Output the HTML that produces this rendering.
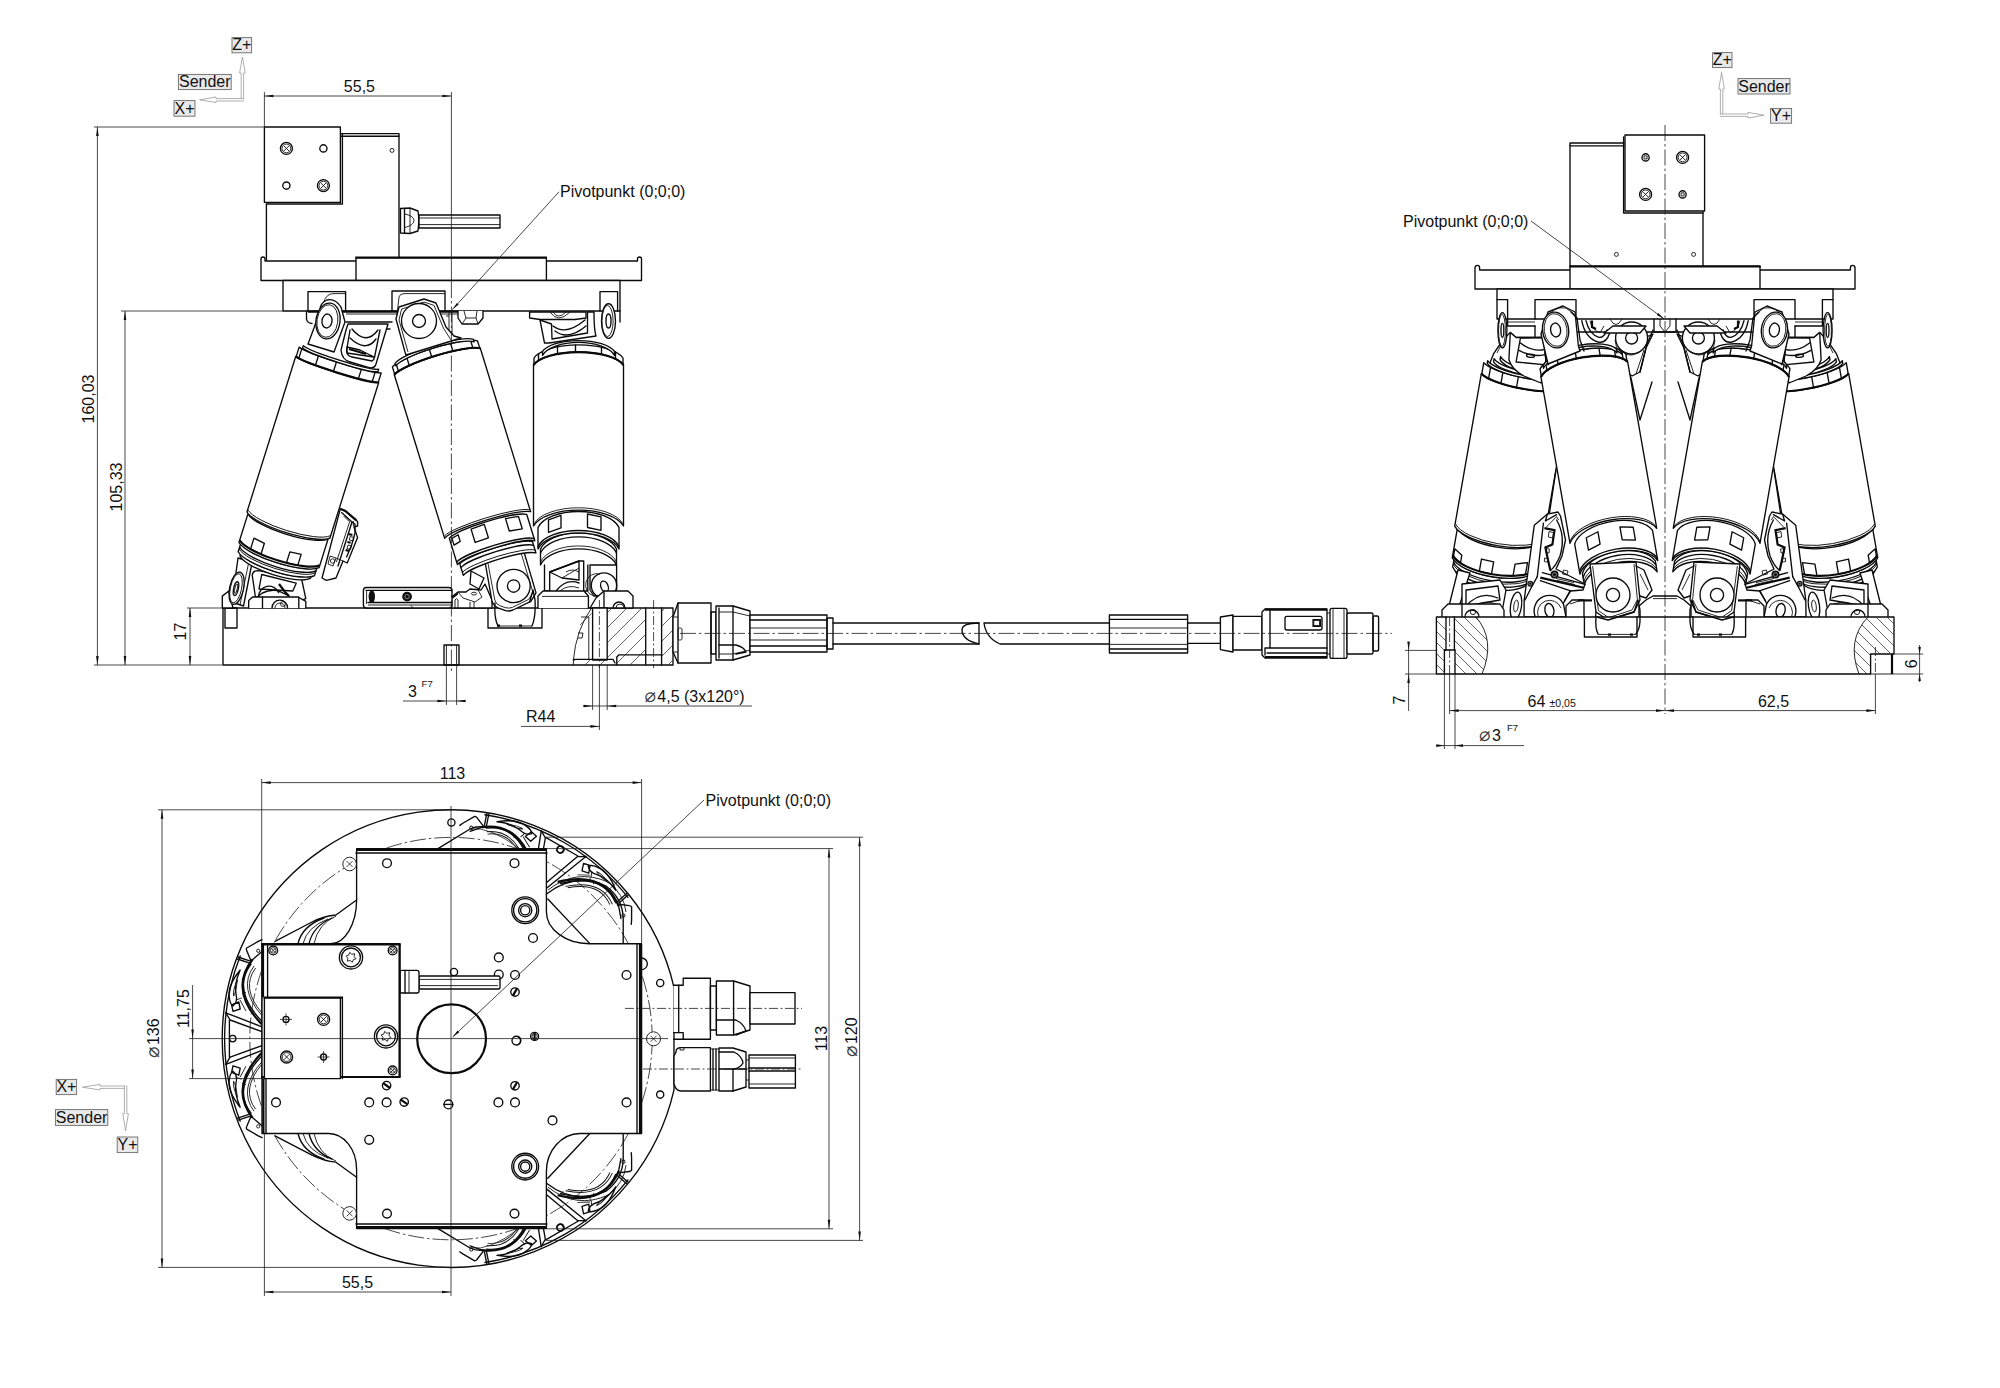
<!DOCTYPE html>
<html lang="de"><head><meta charset="utf-8"><title>Hexapod Zeichnung</title>
<style>
html,body{margin:0;padding:0;background:#fff}
svg{display:block}
.m{stroke:#0a0a0a;stroke-width:1.35;fill:none;stroke-linejoin:round;stroke-linecap:round}
.w{stroke:#0a0a0a;stroke-width:1.35;fill:#fff;stroke-linejoin:round;stroke-linecap:round}
.k{stroke:#0a0a0a;stroke-width:2.2;fill:none;stroke-linecap:butt}
.n{stroke:#111;stroke-width:0.9;fill:none;stroke-linejoin:round}
.nw{stroke:#111;stroke-width:0.9;fill:#fff;stroke-linejoin:round}
.t{stroke:#1a1a1a;stroke-width:0.8;fill:none}
.c{stroke:#1a1a1a;stroke-width:0.8;fill:none;stroke-dasharray:16 3 2.5 3}
.c2{stroke:#1a1a1a;stroke-width:0.8;fill:none;stroke-dasharray:9 2.5 2 2.5}
.h{stroke:#222;stroke-width:0.7;fill:none}
.ah{fill:#111;stroke:none}
.f{fill:#111;stroke:none}
.wf{fill:#fff;stroke:none}
.g{fill:none;stroke:#999;stroke-width:0.8}
.ax{stroke:#9a9a9a;stroke-width:1.1;fill:none}
.axh{stroke:#9a9a9a;stroke-width:0.8;fill:#fff}
.lb{fill:#e9e9e9;stroke:#6a6a6a;stroke-width:0.9}
text{font-family:"Liberation Sans","DejaVu Sans",sans-serif;font-size:16px;fill:#111}
.di{font-size:19px;fill:#444}
</style></head>
<body>
<svg width="2000" height="1388" viewBox="0 0 2000 1388">
<rect class="wf" x="0" y="0" width="2000" height="1388"/>
<path class="m" d="M341.0 133.6L399.0 133.6L399.0 257.0"/>
<path class="m" d="M341.0 136.2L399.0 136.2"/>
<circle class="n" cx="392.0" cy="150.4" r="2.0"/>
<path class="m" d="M266.4 204.0L266.4 260.0"/>
<path class="m" d="M342.4 133.6L342.4 204.0L266.4 204.0"/>
<rect class="w" x="264.4" y="127.0" width="76.0" height="75.4"/>
<circle class="w" cx="286.4" cy="148.4" r="6.0"/>
<circle class="n" cx="286.4" cy="148.4" r="4.4"/>
<path class="n" d="M283.8 145.8L289.0 151.0"/>
<path class="n" d="M283.8 151.0L289.0 145.8"/>
<circle class="w" cx="323.4" cy="185.6" r="6.0"/>
<circle class="n" cx="323.4" cy="185.6" r="4.4"/>
<path class="n" d="M320.8 183.0L326.0 188.2"/>
<path class="n" d="M320.8 188.2L326.0 183.0"/>
<circle class="m" cx="323.4" cy="148.4" r="3.6"/>
<circle class="m" cx="286.4" cy="185.6" r="3.6"/>
<path class="w" d="M400.5 208.5L410 208L418 211Q419.5 220 418 231L410 233.5L400.5 233Z" />
<path class="m" d="M404.5 208.5L404.5 233.0"/>
<path class="n" d="M410.0 208.0L410.0 233.5"/>
<path class="n" d="M405 214Q414 216 414 220.5Q414 225 405 227.5" />
<rect class="w" x="419.0" y="215.0" width="81.0" height="13.0"/>
<path class="n" d="M419.0 218.0L500.0 218.0"/>
<path class="n" d="M419.0 224.6L500.0 224.6"/>
<path class="w" d="M261 280.5L261 259Q261 257 263 257Q265 257 265 259L265 261L637.5 261L637.5 259Q637.5 257 639.5 257Q641.5 257 641.5 259L641.5 280.5Z" />
<rect class="w" x="356.0" y="257.6" width="190.4" height="22.9"/>
<path class="k" d="M355.4 257.6L547.0 257.6"/>
<rect class="w" x="283.0" y="280.5" width="337.0" height="30.5"/>
<path class="m" d="M308.0 311.0L308.0 291.6L345.6 291.6L345.6 311.0"/>
<path class="m" d="M392.0 311.0L392.0 291.0L445.0 291.0L445.0 311.0"/>
<path class="m" d="M600.0 311.0L600.0 291.6L617.6 291.6L617.6 311.0"/>
<path class="k" d="M308.0 311.6L458.0 311.6"/>
<path class="n" d="M346.0 314.0L458.0 314.0"/>
<path class="m" d="M346.0 322.0L392.0 322.0"/>
<path class="m" d="M350.0 329.0L390.0 329.0"/>
<path class="w" d="M458 311L458 318L462 324L478 324L483 318L483 311" />
<path class="n" d="M464.0 311.0L466.0 318.0"/>
<path class="n" d="M477.0 311.0L476.0 318.0"/>
<path class="n" d="M462 324L466 318L476 318L478 324" />
<rect class="w" x="223.0" y="608.0" width="450.0" height="57.0"/>
<rect class="m" x="225.0" y="608.0" width="12.0" height="20.0"/>
<path class="m" d="M488.0 608.0L488.0 628.0L542.0 628.0L542.0 608.0"/>
<rect class="m" x="444.0" y="645.0" width="15.0" height="20.0"/>
<path class="n" d="M446.4 645.0L446.4 665.0"/>
<path class="n" d="M456.6 645.0L456.6 665.0"/>
<path class="w" d="M544.5 565L544.5 591L549.7 591L549.7 572L579 561L583.7 561L583.7 591L587.8 591L587.8 565" />
<path class="m" d="M549.7 572L579 561L579 580L562 578Z" />
<path class="n" d="M562 578L579 568M566 572Q572 568 579 572" />
<path class="m" d="M556 591Q566 578 579 583" />
<path class="n" d="M560 591Q568 584 579 588" />
<path class="w" d="M590 565L616.6 565L616.6 590L604 596L594 596L590 590Z" />
<circle class="m" cx="604.0" cy="585.5" r="12.7"/>
<path class="n" d="M594 596A11 11 0 0 1 600 574" />
<ellipse class="m" cx="604.5" cy="586.5" rx="3.6" ry="5.6" transform="rotate(-20 604.5 586.5)"/>
<path class="w" d="M538 608L538 596L543 591L584 591L588.4 596L588.4 608" />
<path class="n" d="M542.0 596.4L588.0 596.4"/>
<path class="w" d="M590 608L596 598L604 591L628 591L633 596L633 608Z" />
<path class="m" d="M604.0 591.0L604.0 608.0"/>
<path class="m" d="M613 608A6 6 0 0 1 625 608" />
<path class="n" d="M616 608A4 4 0 0 1 624 608" />
<path class="w" d="M529.6 312.0L586.0 312.0L586.0 318.0L575.0 319.5L540.0 319.5L529.6 318.0Z"/>
<path class="n" d="M553 312Q558 320 566 312" />
<path class="n" d="M550 312Q558 324 570 312" />
<path class="w" d="M540 320L544.5 343L549 343L596 336Q594 330 594 312L587.5 312L587.5 333L552 339L551.5 324Z" />
<path class="m" d="M553 326Q566 336 585 320" />
<path class="m" d="M555 331Q568 341 586 326" />
<ellipse class="w" cx="608.5" cy="321.0" rx="7.0" ry="17.3"/>
<ellipse class="n" cx="607.5" cy="321.0" rx="5.6" ry="15.5"/>
<ellipse class="m" cx="608.5" cy="321.0" rx="2.5" ry="7.0"/>
<path class="m" d="M620.0 311.0L620.0 322.0"/>
<g transform="translate(578.5 365.0) rotate(0)">
<path class="w" d="M-38.0 184.0A39.1 21.0 0 0 1 38.0 184.0L38.0 200.0A39.1 21.0 0 0 0 -38.0 200.0Z" />
<path class="m" d="M-38.0 188.0A39.1 21.0 0 0 1 38.0 188.0" />
<path class="n" d="M-38.0 197.0A39.1 21.0 0 0 1 38.0 197.0" />
<path class="w" d="M-40.5 162.5A41.7 21.0 0 0 1 40.5 162.5L40.5 184.0A41.7 21.0 0 0 0 -40.5 184.0Z" />
<path class="m" d="M-40.5 181.5A41.7 21.0 0 0 1 40.5 181.5" />
<path class="m" d="M-30.0 154.9L-17.5 150.4L-17.5 162.9L-30.0 167.4Z"/>
<path class="m" d="M9.0 149.0L22.5 151.8L22.5 165.3L9.0 162.5Z"/>
<path class="w" d="M-45.0 0.0A46.4 17.1 0 0 1 45.0 0.0L45.0 161.0A46.4 21.0 0 0 0 -45.0 161.0Z" />
<path class="n" d="M-44.4 158.8A45.7 21.0 0 0 1 44.4 158.8" />
<path class="w" d="M-44.5 -7.0A45.8 17.1 0 0 1 44.5 -7.0L44.5 0.0A45.8 17.1 0 0 0 -44.5 0.0Z" />
<path class="k" d="M-45.0 0.0A46.4 17.1 0 0 1 45.0 0.0" />
<path class="m" d="M-40.0 -11.3L-40.0 -4.3"/>
<path class="m" d="M-21.0 -18.1L-21.0 -11.1"/>
<path class="m" d="M-3.0 -20.0L-3.0 -13.0"/>
<path class="m" d="M23.0 -17.7L23.0 -10.7"/>
<path class="m" d="M37.0 -13.0L37.0 -6.0"/>
<path class="w" d="M-36.0 -13.4A37.1 14.5 0 0 1 36.0 -13.4L36.0 -9.6A37.1 17.1 0 0 0 -36.0 -9.6Z" />
</g>
<path class="w" d="M451.6 608L451.6 597L458 592L466 592L470 589L481 590L485 584L492 600L492 608Z" />
<path class="f" d="M451.6 597L458 592L458 594.6L453 598.4Z" />
<path class="n" d="M458 592L463 598L475 602L482 597L478 590M455 600Q456.6 597 458 600L458 608M455 600L455 608M470 602L470 608M474 602L474 608" />
<path class="m" d="M471 571L484 578L479 589L470 584Z" />
<ellipse class="n" cx="474.0" cy="593.6" rx="2.6" ry="1.4"/>
<path class="w" d="M484 556L492 601.3Q494 607 500 608.6L505.6 610.7Q509 611.6 513 610L530.8 601.3L536 592.9L524 552Z" />
<path class="n" d="M487 558L494.8 600Q496 604.6 500.6 606L506 607.8Q509 608.6 512.4 607.4L528.6 599.4L533 592.4L521.4 554" />
<circle class="w" cx="513.6" cy="586.0" r="16.6"/>
<circle class="m" cx="513.6" cy="586.0" r="6.2"/>
<path class="m" d="M495 603Q494 618 498 626M529.6 602L533 590L535 600Q536 616 532 626" />
<path class="n" d="M498 626L532 626" />
<path class="k" d="M497 625.6h3M519 625.6h3" />
<g transform="translate(437.3 361.5) rotate(-17.1)">
<path class="w" d="M-38.0 200.0A39.1 6.6 0 0 1 38.0 200.0L38.0 212.0A39.1 6.6 0 0 0 -38.0 212.0Z" />
<path class="m" d="M-38.0 204.0A39.1 6.6 0 0 1 38.0 204.0" />
<path class="n" d="M-38.0 209.0A39.1 6.6 0 0 1 38.0 209.0" />
<path class="w" d="M-40.5 172.5A41.7 6.6 0 0 1 40.5 172.5L40.5 200.0A41.7 6.6 0 0 0 -40.5 200.0Z" />
<path class="m" d="M-40.5 197.5A41.7 6.6 0 0 1 40.5 197.5" />
<path class="m" d="M-38.0 173.4L-31.0 171.7L-31.0 178.7L-38.0 180.4Z"/>
<path class="m" d="M-17.0 170.1L-3.0 169.5L-3.0 183.5L-17.0 184.1Z"/>
<path class="m" d="M19.0 170.2L32.0 171.9L32.0 184.9L19.0 183.2Z"/>
<path class="w" d="M-45.0 0.0A46.4 7.9 0 0 1 45.0 0.0L45.0 171.0A46.4 6.6 0 0 0 -45.0 171.0Z" />
<path class="n" d="M-44.4 168.8A45.7 6.6 0 0 1 44.4 168.8" />
<path class="w" d="M-44.5 -8.0A45.8 7.9 0 0 1 44.5 -8.0L44.5 0.0A45.8 7.9 0 0 0 -44.5 0.0Z" />
<path class="k" d="M-45.0 0.0A46.4 7.9 0 0 1 45.0 0.0" />
<path class="m" d="M-40.0 -10.0L-40.0 -2.0"/>
<path class="m" d="M-28.0 -12.4L-28.0 -4.4"/>
<path class="m" d="M-4.0 -14.0L-4.0 -6.0"/>
<path class="m" d="M18.0 -13.4L18.0 -5.4"/>
<path class="m" d="M38.0 -10.5L38.0 -2.5"/>
<path class="w" d="M-41.0 -10.6A42.2 7.9 0 0 1 41.0 -10.6L41.0 -8.0A42.2 7.9 0 0 0 -41.0 -8.0Z" />
</g>
<path class="n" d="M397 315L399 297Q400 293.6 404 293.6L445 293.6" />
<path class="w" d="M396 319L399 307L424 299L436 303L446 327L454 336L461 338L406 355L405 352Z" />
<path class="n" d="M399 320L401.6 309L424 302L434 305.4L443.4 328L451 340" />
<path class="n" d="M399 320L408 352" />
<circle class="w" cx="419.0" cy="321.0" r="17.5"/>
<circle class="m" cx="419.0" cy="321.0" r="6.5"/>
<path class="n" d="M449 310L449 330M452 310L452 334M446 316L449 316" />
<path class="w" d="M222.3 608L222.3 596.1L228.8 591L233 608Z" />
<path class="w" d="M252.2 575Q253 570.6 258 570.6L301.4 578L305.8 598.7L300 601L256 601Z" />
<path class="m" d="M261.7 574.5L296.2 583.2L292.8 591L259 589Z" />
<path class="m" d="M258.6 597A10.4 10.4 0 0 1 278.6 592.6" />
<path class="m" d="M252.4 603Q262 588 278 590.6L289 596" />
<path class="k" d="M279 584L285 592L289 596" />
<path class="w" d="M238 558L252.2 562L243.5 606L232 602Z" />
<path class="n" d="M248.6 563.0L240.0 605.0"/>
<ellipse class="w" cx="236.6" cy="588.3" rx="7.0" ry="16.4" transform="rotate(12 236.6 588.3)"/>
<ellipse class="n" cx="236.0" cy="588.3" rx="5.6" ry="14.8" transform="rotate(12 236.0 588.3)"/>
<ellipse class="m" cx="236.0" cy="588.6" rx="2.3" ry="7.0" transform="rotate(12 236.0 588.6)"/>
<ellipse class="n" cx="236.0" cy="588.6" rx="1.2" ry="5.0" transform="rotate(12 236.0 588.6)"/>
<path class="w" d="M248.7 608L248.7 600.6L252.6 597L298 597L305.8 601.4L305.8 608" />
<path class="m" d="M262.5 597.0L262.5 608.0"/>
<path class="m" d="M298.8 597.0L298.8 608.0"/>
<path class="m" d="M272 608A7.8 7.8 0 0 1 287.6 608" />
<path class="n" d="M275 608A5 5 0 0 1 285 608" />
<circle class="n" cx="283.0" cy="604.0" r="2.4"/>
<rect class="w" x="363.4" y="587.5" width="88.6" height="20.5" rx="3"/>
<path class="m" d="M366.0 590.3L452.0 590.3"/>
<path class="m" d="M368.0 602.5L452.0 602.5"/>
<path class="n" d="M368.0 605.0L452.0 605.0"/>
<path class="n" d="M366.6 591L366.6 604" />
<ellipse class="f" cx="371.8" cy="596.6" rx="3.2" ry="6.4"/>
<circle class="f" cx="407.1" cy="596.6" r="4.9"/>
<circle class="g" cx="407.1" cy="596.6" r="2.2"/>
<path class="n" d="M411 605.6L413 608" />
<path class="n" d="M324 302Q326 293.6 334 293.6L345.5 293.6" />
<path class="m" d="M306.5 311.5L306.5 319Q307 323 312 323.5" />
<path class="w" d="M348 324L346 330L341 350Q342 360 350 362L370 368Q375 368 376 364L388 324Z" />
<path class="m" d="M350 330L346.5 351Q347 356 352 357L372 361Q374 360 374.6 357L380 330" />
<path class="m" d="M352 329Q366 346 378 330" />
<path class="m" d="M350 338Q366 353 376 339" />
<path class="m" d="M347 347L360 350L374 357L347 353Z" />
<path class="k" d="M349 349L366 354" />
<g transform="translate(337.2 369.5) rotate(17.4)">
<path class="w" d="M-37.0 203.5A38.1 10.5 0 0 0 37.0 203.5L37.0 207.0A38.1 10.5 0 0 1 -37.0 207.0Z" />
<path class="w" d="M-40.0 194.5A41.2 10.5 0 0 0 40.0 194.5L40.0 203.5A41.2 10.5 0 0 1 -40.0 203.5Z" />
<path class="m" d="M-40.0 198.5A41.2 10.5 0 0 0 40.0 198.5" />
<path class="n" d="M-40.0 200.5A41.2 10.5 0 0 0 40.0 200.5" />
<path class="w" d="M-42.0 164.5A43.3 10.5 0 0 0 42.0 164.5L42.0 194.5A43.3 10.5 0 0 1 -42.0 194.5Z" />
<path class="k" d="M-42.0 192.0A43.3 10.5 0 0 0 42.0 192.0" />
<path class="m" d="M-29.0 185.8L-17.5 187.6L-17.5 199.1L-29.0 197.3Z"/>
<path class="m" d="M9.4 188.2L20.9 187.2L20.9 198.7L9.4 199.7Z"/>
<path class="w" d="M-43.5 0.0A44.8 3.9 0 0 0 43.5 0.0L43.5 163.0A44.8 10.5 0 0 1 -43.5 163.0Z" />
<path class="n" d="M-42.9 160.8A44.2 10.5 0 0 0 42.9 160.8" />
<path class="w" d="M-43.0 -10.0A44.3 3.9 0 0 0 43.0 -10.0L43.0 0.0A44.3 3.9 0 0 1 -43.0 0.0Z" />
<path class="k" d="M-43.5 0.0A44.8 3.9 0 0 0 43.5 0.0" />
<path class="m" d="M-40.0 -9.3L-40.0 0.7"/>
<path class="m" d="M-22.0 -7.5L-22.0 2.5"/>
<path class="m" d="M-3.0 -7.0L-3.0 3.0"/>
<path class="m" d="M23.0 -7.6L23.0 2.4"/>
<path class="m" d="M37.0 -8.8L37.0 1.2"/>
<path class="w" d="M-39.5 -12.6A40.7 3.9 0 0 0 39.5 -12.6L39.5 -10.0A40.7 3.9 0 0 1 -39.5 -10.0Z" />
</g>
<path class="w" d="M314 328L308 344L334 352L345 322L341 307Q335 298 327 300Q320 303 320 310Z" />
<ellipse class="w" cx="328.0" cy="321.0" rx="12.0" ry="18.0" transform="rotate(8 328.0 321.0)"/>
<ellipse class="n" cx="327.4" cy="321.0" rx="10.4" ry="16.4" transform="rotate(8 327.4 321.0)"/>
<ellipse class="m" cx="327.0" cy="321.0" rx="5.0" ry="7.0" transform="rotate(8 327.0 321.0)"/>
<path class="w" d="M340.3 508.8L345 511L357.6 521.5L357.6 526L354 527L357.6 537.6L347.2 563L343 561L336 578L326.4 580.3L322 578L330 548Z" />
<path class="k" d="M340.3 508.8L345.4 511L356.4 520.4" />
<path class="m" d="M341.6 512.6L352 522L338 566" />
<path class="n" d="M343.6 516L349.6 522L336.4 562" />
<path class="m" d="M352 522L355 524.4L355 533L351.6 545L346.6 557" />
<path class="n" d="M353.4 521L353.4 526.4M350 536.6L354 537.4L353 541L349.4 540ZM348 545L351.6 545.8L350.6 549.4L347 548.6Z" />
<path class="k" d="M348.4 534L352.4 535M347.4 542L350.6 542.8M345.6 550L349 551" />
<path class="n" d="M330 556L336 558L333 566L328 564ZM336 558L343 561" />
<circle class="n" cx="332.6" cy="561.0" r="2.2"/>
<defs><clipPath id="ca1"><path d="M607.2 608L645.7 608L645.7 654.8L616.8 654.8L616.8 665L607.2 665Z"/></clipPath><clipPath id="ca2"><path d="M661.6 608L673 608L673 665L661.6 665Z"/></clipPath><clipPath id="ca3"><path d="M573.4 659.4L613 659.4L613 665L573.4 665ZM616.8 654.8L645.7 654.8L645.7 665L616.8 665ZM575 625L591.6 608L591.6 625Z"/></clipPath></defs>
<path class="n" d="M591.6 608Q576 630 573.4 660L573.4 665" />
<rect class="w" x="592.6" y="608.0" width="14.6" height="52.0"/>
<path class="m" d="M645.7 608.0L645.7 665.0"/>
<path class="m" d="M661.6 608.0L661.6 665.0"/>
<path class="m" d="M573.4 659.4L613 659.4L615 663M616.8 665L616.8 657L619 654.8L662 654.8" />
<path class="n" d="M581 617L588.8 617L588.8 659M578 633L583 633L582 638L578 638" />
<g clip-path="url(#ca1)">
<path class="h" d="M540.0 665.0L597.0 608.0M555.0 665.0L612.0 608.0M570.0 665.0L627.0 608.0M585.0 665.0L642.0 608.0M600.0 665.0L657.0 608.0M615.0 665.0L672.0 608.0M630.0 665.0L687.0 608.0M645.0 665.0L702.0 608.0" />
</g>
<g clip-path="url(#ca2)">
<path class="h" d="M593.0 665.0L650.0 608.0M608.0 665.0L665.0 608.0M623.0 665.0L680.0 608.0M638.0 665.0L695.0 608.0M653.0 665.0L710.0 608.0M668.0 665.0L725.0 608.0M683.0 665.0L740.0 608.0" />
</g>
<g clip-path="url(#ca3)">
<path class="h" d="M495.0 665.0L552.0 608.0M510.0 665.0L567.0 608.0M525.0 665.0L582.0 608.0M540.0 665.0L597.0 608.0M555.0 665.0L612.0 608.0M570.0 665.0L627.0 608.0M585.0 665.0L642.0 608.0M600.0 665.0L657.0 608.0M615.0 665.0L672.0 608.0M630.0 665.0L687.0 608.0M645.0 665.0L702.0 608.0" />
</g>
<path class="w" d="M673 617L678 603L711 603L711 663L678 663L673 652Z" />
<path class="m" d="M678.0 603.0L678.0 663.0"/>
<path class="n" d="M673.0 617.0L678.0 617.0"/>
<path class="n" d="M673.0 652.0L678.0 652.0"/>
<rect class="n" x="678.0" y="628.0" width="4.0" height="12.0" rx="1.5"/>
<rect class="m" x="711.0" y="612.0" width="5.0" height="42.0"/>
<path class="w" d="M716 606L733 606L750 611L750 655L733 660L716 660Z" />
<path class="m" d="M719.0 608.0L719.0 658.0"/>
<path class="m" d="M733.0 606.0L733.0 660.0"/>
<path class="n" d="M719 612L733 612L750 616M719 654L733 654L750 650" />
<path class="m" d="M719 645L736 645Q744 647 746 652L736 654" />
<rect class="w" x="750.0" y="615.0" width="77.0" height="37.0"/>
<path class="m" d="M750.0 620.0L827.0 620.0"/>
<path class="n" d="M750.0 628.0L827.0 628.0"/>
<path class="n" d="M750.0 640.0L827.0 640.0"/>
<path class="m" d="M750.0 646.0L827.0 646.0"/>
<rect class="m" x="827.0" y="618.0" width="6.0" height="31.0"/>
<path class="m" d="M833 623L979 623M833 644L979 644" />
<path class="w" d="M979 623Q962 623 962 630Q962 640 979 644Z" />
<path class="m" d="M984 623Q986 638 1000 644L1110 644M984 623L1110 623" />
<rect class="w" x="1109.4" y="615.0" width="78.2" height="38.0"/>
<path class="m" d="M1109.4 619.4L1187.6 619.4"/>
<path class="n" d="M1109.4 628.0L1187.6 628.0"/>
<path class="n" d="M1109.4 644.4L1187.6 644.4"/>
<path class="m" d="M1109.4 649.0L1187.6 649.0"/>
<path class="m" d="M1187.6 623L1220.4 623M1187.6 643.4L1220.4 643.4" />
<path class="w" d="M1220.4 617L1233 615L1233 652L1220.4 649.6Z" />
<rect class="w" x="1233.0" y="616.4" width="29.0" height="33.6"/>
<path class="w" d="M1262 612L1265 609L1327 609L1327 658L1265 658L1262 655Z" />
<path class="k" d="M1265 609.6L1327 609.6M1265 657L1327 657" />
<path class="m" d="M1270 610L1270 648L1265 648L1265 655M1270 648L1327 648M1267 653L1327 653" />
<rect class="m" x="1285.0" y="616.4" width="37.0" height="13.6" rx="2"/>
<rect class="f" x="1312.4" y="619.0" width="8.6" height="8.0"/>
<rect class="nw" x="1313.8" y="620.4" width="5.8" height="5.2"/>
<path class="n" d="M1327.0 613.0L1330.0 613.0"/>
<path class="n" d="M1327.0 654.0L1330.0 654.0"/>
<rect class="w" x="1330.0" y="608.4" width="17.0" height="50.0" rx="2"/>
<path class="n" d="M1333.0 608.4L1333.0 658.4"/>
<path class="n" d="M1344.0 608.4L1344.0 658.4"/>
<rect class="w" x="1347.0" y="613.0" width="26.0" height="41.0" rx="1.5"/>
<rect class="m" x="1373.0" y="616.0" width="5.6" height="35.0" rx="1.5"/>
<path class="t" d="M264.4 92.0L264.4 127.0"/>
<path class="t" d="M451.4 92.0L451.4 282.0"/>
<path class="t" d="M264.4 96.0L451.4 96.0"/>
<path class="ah" d="M264.4 96.0L273.4 94.7L273.4 97.3Z"/>
<path class="ah" d="M451.4 96.0L442.4 97.3L442.4 94.7Z"/>
<text x="359.4" y="92.4" text-anchor="middle">55,5</text>
<path class="c" d="M451.4 282.0L451.4 672.0"/>
<path class="t" d="M94.0 127.0L264.0 127.0"/>
<path class="t" d="M94.0 665.0L222.0 665.0"/>
<path class="t" d="M97.4 127.0L97.4 665.0"/>
<path class="ah" d="M97.4 127.0L98.7 136.0L96.1 136.0Z"/>
<path class="ah" d="M97.4 665.0L96.1 656.0L98.7 656.0Z"/>
<text x="94.4" y="399.0" text-anchor="middle" transform="rotate(-90 94.4 399.0)">160,03</text>
<path class="t" d="M121.0 311.0L283.0 311.0"/>
<path class="t" d="M125.0 311.0L125.0 665.0"/>
<path class="ah" d="M125.0 311.0L126.3 320.0L123.7 320.0Z"/>
<path class="ah" d="M125.0 665.0L123.7 656.0L126.3 656.0Z"/>
<text x="121.6" y="487.0" text-anchor="middle" transform="rotate(-90 121.6 487.0)">105,33</text>
<path class="t" d="M187.0 608.0L222.0 608.0"/>
<path class="t" d="M190.0 608.0L190.0 665.0"/>
<path class="ah" d="M190.0 608.0L191.3 617.0L188.7 617.0Z"/>
<path class="ah" d="M190.0 665.0L188.7 656.0L191.3 656.0Z"/>
<text x="185.6" y="631.6" text-anchor="middle" transform="rotate(-90 185.6 631.6)">17</text>
<path class="t" d="M446.4 665.0L446.4 705.0"/>
<path class="t" d="M456.6 665.0L456.6 705.0"/>
<path class="t" d="M403.0 701.0L465.0 701.0"/>
<path class="ah" d="M446.4 701.0L437.4 702.3L437.4 699.7Z"/>
<path class="ah" d="M456.6 701.0L465.6 699.7L465.6 702.3Z"/>
<text x="408.0" y="697.0">3</text>
<text x="421.6" y="686.6" style="font-size:9.5px">F7</text>
<path class="t" d="M599.4 665.0L599.4 730.0"/>
<path class="t" d="M521.0 726.4L599.4 726.4"/>
<path class="ah" d="M599.4 726.4L590.4 727.7L590.4 725.1Z"/>
<text x="526.0" y="722.0">R44</text>
<path class="t" d="M592.6 665.0L592.6 710.0"/>
<path class="t" d="M607.2 665.0L607.2 710.0"/>
<path class="t" d="M583.0 706.0L752.0 706.0"/>
<path class="ah" d="M592.6 706.0L583.6 707.3L583.6 704.7Z"/>
<path class="ah" d="M607.2 706.0L616.2 704.7L616.2 707.3Z"/>
<text x="644.4" y="702.0"><tspan class="di">⌀</tspan><tspan dx="1.5">4,5 (3x120°)</tspan></text>
<path class="c2" d="M599.4 600.0L599.4 668.0"/>
<path class="c2" d="M653.6 600.0L653.6 668.0"/>
<path class="c" d="M680.0 633.4L1392.0 633.4"/>
<path class="t" d="M559.0 191.8L452.4 309.6"/>
<path class="ah" d="M452.4 309.6L456.9 302.9L458.7 304.5Z"/>
<text x="560.0" y="196.7">Pivotpunkt (0;0;0)</text>
<path class="m" d="M1624.0 143.0L1570.0 143.0L1570.0 266.0"/>
<path class="m" d="M1570.0 145.8L1624.0 145.8"/>
<path class="m" d="M1703.0 212.0L1703.0 266.0"/>
<circle class="n" cx="1616.4" cy="254.4" r="2.0"/>
<circle class="n" cx="1693.6" cy="254.4" r="2.0"/>
<path class="m" d="M1623.6 137.0L1623.6 213.0L1703.0 213.0"/>
<rect class="w" x="1625.0" y="135.0" width="79.6" height="76.0"/>
<circle class="w" cx="1682.6" cy="157.4" r="6.0"/>
<circle class="n" cx="1682.6" cy="157.4" r="4.4"/>
<path class="n" d="M1680.0 154.8L1685.2 160.0"/>
<path class="n" d="M1680.0 160.0L1685.2 154.8"/>
<circle class="w" cx="1645.6" cy="194.4" r="6.0"/>
<circle class="n" cx="1645.6" cy="194.4" r="4.4"/>
<path class="n" d="M1643.0 191.8L1648.2 197.0"/>
<path class="n" d="M1643.0 197.0L1648.2 191.8"/>
<circle class="m" cx="1645.6" cy="157.4" r="3.6"/>
<rect class="n" x="1644.1" y="155.9" width="3.0" height="3.0"/>
<circle class="m" cx="1682.6" cy="194.4" r="3.6"/>
<rect class="n" x="1681.1" y="192.9" width="3.0" height="3.0"/>
<path class="w" d="M1475 289L1475 268Q1475 265.4 1477.4 265.4Q1479.6 265.4 1479.6 268L1479.6 270L1850.4 270L1850.4 268Q1850.4 265.4 1852.6 265.4Q1855 265.4 1855 268L1855 289Z" />
<rect class="w" x="1570.0" y="266.4" width="190.0" height="22.6"/>
<path class="k" d="M1569.4 266.4L1760.6 266.4"/>
<rect class="w" x="1497.0" y="289.0" width="336.0" height="30.0"/>
<path class="m" d="M1654 319L1654 332L1676 332L1676 319" />
<path class="n" d="M1660 319L1660 326L1665 332L1670 326L1670 319" />
<path class="m" d="M1576.0 332.0L1754.0 332.0"/>
<path class="m" d="M1497.0 299.6L1507.6 299.6L1507.6 319.0"/>
<path class="m" d="M1535.0 319.0L1535.0 299.6L1576.0 299.6L1576.0 319.0"/>
<path class="m" d="M1507.6 319.0L1507.6 326.0L1535.0 326.0"/>
<path class="n" d="M1507.6 322.0L1535.0 322.0"/>
<path class="m" d="M1535.0 326.0L1535.0 338.0L1548.0 338.0"/>
<path class="w" d="M1493.8 353.3L1503 340L1510.3 332.4L1516.1 337.5L1543.5 337.5L1546.4 364.8L1541 382L1488 368Z" />
<g transform="translate(1525.7 381.2) rotate(9.9)">
<path class="w" d="M-37.0 195.5A38.1 15.8 0 0 0 37.0 195.5L37.0 199.0A38.1 15.8 0 0 1 -37.0 199.0Z" />
<path class="w" d="M-40.0 186.5A41.2 15.8 0 0 0 40.0 186.5L40.0 195.5A41.2 15.8 0 0 1 -40.0 195.5Z" />
<path class="m" d="M-40.0 190.5A41.2 15.8 0 0 0 40.0 190.5" />
<path class="n" d="M-40.0 192.5A41.2 15.8 0 0 0 40.0 192.5" />
<path class="w" d="M-42.0 156.5A43.3 15.8 0 0 0 42.0 156.5L42.0 186.5A43.3 15.8 0 0 1 -42.0 186.5Z" />
<path class="k" d="M-42.0 184.0A43.3 15.8 0 0 0 42.0 184.0" />
<path class="m" d="M-41.0 177.3L-33.0 182.4L-33.0 190.4L-41.0 185.3Z"/>
<path class="m" d="M-13.0 182.8L-0.5 183.5L-0.5 196.0L-13.0 195.3Z"/>
<path class="m" d="M21.0 182.0L33.0 178.4L33.0 190.4L21.0 194.0Z"/>
<path class="w" d="M-45.0 0.0A46.4 10.5 0 0 0 45.0 0.0L45.0 155.0A46.4 15.8 0 0 1 -45.0 155.0Z" />
<path class="n" d="M-44.4 152.8A45.7 15.8 0 0 0 44.4 152.8" />
<path class="w" d="M-44.5 -11.0A45.8 10.5 0 0 0 44.5 -11.0L44.5 0.0A45.8 10.5 0 0 1 -44.5 0.0Z" />
<path class="k" d="M-45.0 0.0A46.4 10.5 0 0 0 45.0 0.0" />
<path class="m" d="M-37.0 -7.3L-37.0 3.7"/>
<path class="m" d="M-24.0 -4.6L-24.0 6.4"/>
<path class="m" d="M-8.0 -3.2L-8.0 7.8"/>
<path class="w" d="M-29.0 -20.0A29.9 10.5 0 0 0 29.0 -20.0L29.0 -16.8A29.9 10.5 0 0 1 -29.0 -16.8Z" />
<path class="w" d="M-35.0 -16.8A36.1 10.5 0 0 0 35.0 -16.8L35.0 -13.6A36.1 10.5 0 0 1 -35.0 -13.6Z" />
<path class="w" d="M-41.0 -13.6A42.2 10.5 0 0 0 41.0 -13.6L41.0 -11.0A42.2 10.5 0 0 1 -41.0 -11.0Z" />
</g>
<path class="w" d="M1510.3 332.4L1516.1 337.5L1543.5 337.5L1546.4 366L1541 383L1524 376Q1512 370 1508.9 359.8Z" />
<path class="m" d="M1520.4 338.2L1543.5 337.5L1546.4 364.8L1516.1 362Z" />
<path class="m" d="M1520.4 343Q1532 352 1544.2 349.6" />
<path class="m" d="M1519 350.4Q1532 357.6 1545 354.6" />
<ellipse class="m" cx="1530.5" cy="355.8" rx="4.0" ry="1.6" transform="rotate(4 1530.5 355.8)"/>
<path class="n" d="M1503 341L1497 353" />
<ellipse class="w" cx="1502.4" cy="330.3" rx="4.5" ry="17.6"/>
<ellipse class="n" cx="1502.0" cy="330.3" rx="3.4" ry="16.0"/>
<ellipse class="m" cx="1502.4" cy="330.3" rx="1.4" ry="7.0"/>
<path class="m" d="M1631.0 378.0L1640.0 420.0L1652.0 382.0"/>
<path class="m" d="M1556.0 470.0L1547.4 527.0"/>
<path class="w" d="M1612 352L1640 340L1653 334L1646 348L1640 372L1632 376L1618 366Z" />
<circle class="w" cx="1631.6" cy="338.0" r="16.0"/>
<circle class="m" cx="1631.6" cy="338.0" r="6.0"/>
<path class="n" d="M1615 340Q1616 356 1632 355Q1642 353 1647 343" />
<path class="m" d="M1640 372L1647 344L1653 330" />
<path class="n" d="M1636 374L1644 350" />
<path class="m" d="M1581.8 320.6Q1585 338 1598 342Q1606 344 1609.7 333" />
<path class="m" d="M1586 320.6Q1589 334 1599 337.4Q1604 338 1607 330" />
<path class="n" d="M1590 320.6Q1592 330 1600 332.6L1604 326" />
<path class="k" d="M1592 320.6L1592 327L1596 329" />
<path class="w" d="M1604 333L1640 333L1646 326L1613 326Z" />
<path class="n" d="M1610 319Q1616 330 1622 319" />
<g transform="translate(1584.3 369.3) rotate(-9.9)">
<path class="w" d="M-37.0 201.0A38.1 21.0 0 0 1 37.0 201.0L37.0 212.0A38.1 21.0 0 0 0 -37.0 212.0Z" />
<path class="m" d="M-37.0 205.0A38.1 21.0 0 0 1 37.0 205.0" />
<path class="n" d="M-37.0 209.0A38.1 21.0 0 0 1 37.0 209.0" />
<path class="w" d="M-39.5 170.5A40.7 21.0 0 0 1 39.5 170.5L39.5 201.0A40.7 21.0 0 0 0 -39.5 201.0Z" />
<path class="m" d="M-39.5 198.5A40.7 21.0 0 0 1 39.5 198.5" />
<path class="m" d="M-27.0 166.3L-14.5 162.4L-14.5 174.9L-27.0 178.8Z"/>
<path class="m" d="M8.0 161.4L21.0 164.0L21.0 177.0L8.0 174.4Z"/>
<path class="w" d="M-44.0 0.0A45.3 15.8 0 0 1 44.0 0.0L44.0 169.0A45.3 21.0 0 0 0 -44.0 169.0Z" />
<path class="n" d="M-43.4 166.8A44.7 21.0 0 0 1 43.4 166.8" />
<path class="w" d="M-43.5 -8.0A44.8 15.8 0 0 1 43.5 -8.0L43.5 0.0A44.8 15.8 0 0 0 -43.5 0.0Z" />
<path class="k" d="M-44.0 0.0A45.3 15.8 0 0 1 44.0 0.0" />
<path class="m" d="M-37.0 -13.1L-37.0 -5.1"/>
<path class="m" d="M-25.0 -17.3L-25.0 -9.3"/>
<path class="m" d="M-6.0 -19.9L-6.0 -11.9"/>
<path class="m" d="M18.0 -18.7L18.0 -10.7"/>
<path class="m" d="M33.0 -14.9L33.0 -6.9"/>
<path class="m" d="M40.0 -11.3L40.0 -3.3"/>
<path class="w" d="M-40.0 -10.6A41.2 15.8 0 0 1 40.0 -10.6L40.0 -8.0A41.2 15.8 0 0 0 -40.0 -8.0Z" />
<path class="w" d="M-35.0 -14.4A36.1 13.4 0 0 1 35.0 -14.4L35.0 -10.6A36.1 15.8 0 0 0 -35.0 -10.6Z" />
</g>
<path class="w" d="M1541 334L1548 312L1563 306L1575 312L1578.4 346L1580 351L1548 364Z" />
<path class="n" d="M1548 318Q1552 306 1566 308L1574 314" />
<ellipse class="w" cx="1555.6" cy="330.0" rx="13.0" ry="18.0" transform="rotate(-8 1555.6 330.0)"/>
<ellipse class="n" cx="1555.6" cy="330.0" rx="11.4" ry="16.4" transform="rotate(-8 1555.6 330.0)"/>
<ellipse class="m" cx="1555.6" cy="330.0" rx="5.0" ry="7.0" transform="rotate(-8 1555.6 330.0)"/>
<path class="m" d="M1571 312L1577 318L1580 340L1584 351" />
<path class="w" d="M1534.3 525.2L1547.4 514.1L1558 512L1560.5 516L1565.5 540L1562 556L1556 569L1585 584L1583 590L1570 591L1563 604L1556 617L1524 617L1524.2 600Z" />
<path class="m" d="M1543.4 523.2L1537.3 576.6" />
<path class="m" d="M1547.4 514.1L1545.4 521L1556.6 514.6" />
<path class="k" d="M1544.4 528.2L1554.5 530.2L1552.4 544.4L1545.4 547.4L1548 560L1550.4 570.6" />
<path class="n" d="M1546.4 527L1556.6 516.6L1558.6 520M1549 531.6L1553.6 532.6L1552.8 538L1548.4 537ZM1546 548.6L1549.4 549L1549 553L1545.8 552.6ZM1544.6 558L1548 558.6L1547.6 562L1544.4 561.6Z" />
<path class="m" d="M1556.6 520Q1566 536 1560 556Q1556 566 1550.4 570.6" />
<path class="k" d="M1540.3 577.6L1583.7 587.7" />
<path class="m" d="M1542.4 572.6L1585 584.4" />
<path class="n" d="M1556 578.4L1574 582.6M1557 580.4L1575 584.6M1563.6 570L1568 571L1567 575L1562.6 574Z" />
<circle class="f" cx="1554.5" cy="574.6" r="4.0"/>
<circle class="g" cx="1554.5" cy="574.6" r="2.0"/>
<circle class="f" cx="1530.3" cy="583.7" r="3.0"/>
<circle class="g" cx="1530.3" cy="583.7" r="1.4"/>
<path class="m" d="M1537.3 576.6L1530 590L1525 600M1540.3 580.7L1570.6 590.8L1564.5 600.8" />
<path class="w" d="M1458 570L1470 573L1456 616L1448 610Z" />
<path class="w" d="M1462 584L1500 580L1506 590L1502 612L1462 612Z" />
<path class="m" d="M1466 590L1498 586L1500 600L1466 606Z" />
<path class="m" d="M1466 606Q1480 590 1498 598" />
<path class="n" d="M1470 610Q1482 598 1496 604" />
<path class="w" d="M1442 617L1442 610L1448 604L1500 604L1504 610L1504 617" />
<path class="m" d="M1462 604L1462 617" />
<path class="m" d="M1465 617A7 7 0 0 1 1479 617" />
<circle class="n" cx="1473.0" cy="612.0" r="2.6"/>
<ellipse class="w" cx="1516.0" cy="606.0" rx="5.5" ry="14.0" transform="rotate(8 1516.0 606.0)"/>
<ellipse class="n" cx="1516.0" cy="606.0" rx="2.2" ry="6.0" transform="rotate(8 1516.0 606.0)"/>
<path class="w" d="M1535.4 617A15 15 0 0 1 1563.6 604.6L1566 617Z" />
<path class="n" d="M1538.4 617A12 12 0 0 1 1561 608" />
<ellipse class="m" cx="1549.4" cy="610.4" rx="4.5" ry="7.0" transform="rotate(-10 1549.4 610.4)"/>
<path class="w" d="M1566 617L1566 606L1572 600L1584 600L1584 617" />
<path class="n" d="M1570 604L1582 600" />
<path class="w" d="M1590 564L1596 612L1608 620L1634 612L1640 600L1636 562Z" />
<path class="n" d="M1592.6 566L1598.4 610.6L1608.6 617.6L1632 610L1637.4 599.6L1634 564" />
<circle class="w" cx="1613.0" cy="595.0" r="17.0"/>
<circle class="m" cx="1613.0" cy="595.0" r="6.6"/>
<path class="m" d="M1596 612Q1594 626 1598 634M1634 612L1638 600L1640 610Q1641 626 1636 634" />
<path class="n" d="M1598.0 634.4L1636.0 634.4"/>
<path class="k" d="M1608 634.6h3M1630 634.6h3" />
<path class="m" d="M1636 566L1644 570L1652 590L1646 598L1640 596" />
<path class="n" d="M1640 574L1648 590" />
<path class="m" d="M1639 617L1639 606L1646 600L1653 596L1665 596" />
<path class="n" d="M1653.0 598.6L1665.0 598.6"/>
<path class="m" d="M1584.4 617.0L1584.4 637.0L1637.0 637.0L1637.0 617.0"/>
<path class="k" d="M1578.0 600.4L1592.0 600.4"/>
<g transform="translate(3330 0) scale(-1 1)">
<path class="m" d="M1497.0 299.6L1507.6 299.6L1507.6 319.0"/>
<path class="m" d="M1535.0 319.0L1535.0 299.6L1576.0 299.6L1576.0 319.0"/>
<path class="m" d="M1507.6 319.0L1507.6 326.0L1535.0 326.0"/>
<path class="n" d="M1507.6 322.0L1535.0 322.0"/>
<path class="m" d="M1535.0 326.0L1535.0 338.0L1548.0 338.0"/>
<path class="w" d="M1493.8 353.3L1503 340L1510.3 332.4L1516.1 337.5L1543.5 337.5L1546.4 364.8L1541 382L1488 368Z" />
<g transform="translate(1525.7 381.2) rotate(9.9)">
<path class="w" d="M-37.0 195.5A38.1 15.8 0 0 0 37.0 195.5L37.0 199.0A38.1 15.8 0 0 1 -37.0 199.0Z" />
<path class="w" d="M-40.0 186.5A41.2 15.8 0 0 0 40.0 186.5L40.0 195.5A41.2 15.8 0 0 1 -40.0 195.5Z" />
<path class="m" d="M-40.0 190.5A41.2 15.8 0 0 0 40.0 190.5" />
<path class="n" d="M-40.0 192.5A41.2 15.8 0 0 0 40.0 192.5" />
<path class="w" d="M-42.0 156.5A43.3 15.8 0 0 0 42.0 156.5L42.0 186.5A43.3 15.8 0 0 1 -42.0 186.5Z" />
<path class="k" d="M-42.0 184.0A43.3 15.8 0 0 0 42.0 184.0" />
<path class="m" d="M-41.0 177.3L-33.0 182.4L-33.0 190.4L-41.0 185.3Z"/>
<path class="m" d="M-13.0 182.8L-0.5 183.5L-0.5 196.0L-13.0 195.3Z"/>
<path class="m" d="M21.0 182.0L33.0 178.4L33.0 190.4L21.0 194.0Z"/>
<path class="w" d="M-45.0 0.0A46.4 10.5 0 0 0 45.0 0.0L45.0 155.0A46.4 15.8 0 0 1 -45.0 155.0Z" />
<path class="n" d="M-44.4 152.8A45.7 15.8 0 0 0 44.4 152.8" />
<path class="w" d="M-44.5 -11.0A45.8 10.5 0 0 0 44.5 -11.0L44.5 0.0A45.8 10.5 0 0 1 -44.5 0.0Z" />
<path class="k" d="M-45.0 0.0A46.4 10.5 0 0 0 45.0 0.0" />
<path class="m" d="M-37.0 -7.3L-37.0 3.7"/>
<path class="m" d="M-24.0 -4.6L-24.0 6.4"/>
<path class="m" d="M-8.0 -3.2L-8.0 7.8"/>
<path class="w" d="M-29.0 -20.0A29.9 10.5 0 0 0 29.0 -20.0L29.0 -16.8A29.9 10.5 0 0 1 -29.0 -16.8Z" />
<path class="w" d="M-35.0 -16.8A36.1 10.5 0 0 0 35.0 -16.8L35.0 -13.6A36.1 10.5 0 0 1 -35.0 -13.6Z" />
<path class="w" d="M-41.0 -13.6A42.2 10.5 0 0 0 41.0 -13.6L41.0 -11.0A42.2 10.5 0 0 1 -41.0 -11.0Z" />
</g>
<path class="w" d="M1510.3 332.4L1516.1 337.5L1543.5 337.5L1546.4 366L1541 383L1524 376Q1512 370 1508.9 359.8Z" />
<path class="m" d="M1520.4 338.2L1543.5 337.5L1546.4 364.8L1516.1 362Z" />
<path class="m" d="M1520.4 343Q1532 352 1544.2 349.6" />
<path class="m" d="M1519 350.4Q1532 357.6 1545 354.6" />
<ellipse class="m" cx="1530.5" cy="355.8" rx="4.0" ry="1.6" transform="rotate(4 1530.5 355.8)"/>
<path class="n" d="M1503 341L1497 353" />
<ellipse class="w" cx="1502.4" cy="330.3" rx="4.5" ry="17.6"/>
<ellipse class="n" cx="1502.0" cy="330.3" rx="3.4" ry="16.0"/>
<ellipse class="m" cx="1502.4" cy="330.3" rx="1.4" ry="7.0"/>
<path class="m" d="M1631.0 378.0L1640.0 420.0L1652.0 382.0"/>
<path class="m" d="M1556.0 470.0L1547.4 527.0"/>
<path class="w" d="M1612 352L1640 340L1653 334L1646 348L1640 372L1632 376L1618 366Z" />
<circle class="w" cx="1631.6" cy="338.0" r="16.0"/>
<circle class="m" cx="1631.6" cy="338.0" r="6.0"/>
<path class="n" d="M1615 340Q1616 356 1632 355Q1642 353 1647 343" />
<path class="m" d="M1640 372L1647 344L1653 330" />
<path class="n" d="M1636 374L1644 350" />
<path class="m" d="M1581.8 320.6Q1585 338 1598 342Q1606 344 1609.7 333" />
<path class="m" d="M1586 320.6Q1589 334 1599 337.4Q1604 338 1607 330" />
<path class="n" d="M1590 320.6Q1592 330 1600 332.6L1604 326" />
<path class="k" d="M1592 320.6L1592 327L1596 329" />
<path class="w" d="M1604 333L1640 333L1646 326L1613 326Z" />
<path class="n" d="M1610 319Q1616 330 1622 319" />
<g transform="translate(1584.3 369.3) rotate(-9.9)">
<path class="w" d="M-37.0 201.0A38.1 21.0 0 0 1 37.0 201.0L37.0 212.0A38.1 21.0 0 0 0 -37.0 212.0Z" />
<path class="m" d="M-37.0 205.0A38.1 21.0 0 0 1 37.0 205.0" />
<path class="n" d="M-37.0 209.0A38.1 21.0 0 0 1 37.0 209.0" />
<path class="w" d="M-39.5 170.5A40.7 21.0 0 0 1 39.5 170.5L39.5 201.0A40.7 21.0 0 0 0 -39.5 201.0Z" />
<path class="m" d="M-39.5 198.5A40.7 21.0 0 0 1 39.5 198.5" />
<path class="m" d="M-27.0 166.3L-14.5 162.4L-14.5 174.9L-27.0 178.8Z"/>
<path class="m" d="M8.0 161.4L21.0 164.0L21.0 177.0L8.0 174.4Z"/>
<path class="w" d="M-44.0 0.0A45.3 15.8 0 0 1 44.0 0.0L44.0 169.0A45.3 21.0 0 0 0 -44.0 169.0Z" />
<path class="n" d="M-43.4 166.8A44.7 21.0 0 0 1 43.4 166.8" />
<path class="w" d="M-43.5 -8.0A44.8 15.8 0 0 1 43.5 -8.0L43.5 0.0A44.8 15.8 0 0 0 -43.5 0.0Z" />
<path class="k" d="M-44.0 0.0A45.3 15.8 0 0 1 44.0 0.0" />
<path class="m" d="M-37.0 -13.1L-37.0 -5.1"/>
<path class="m" d="M-25.0 -17.3L-25.0 -9.3"/>
<path class="m" d="M-6.0 -19.9L-6.0 -11.9"/>
<path class="m" d="M18.0 -18.7L18.0 -10.7"/>
<path class="m" d="M33.0 -14.9L33.0 -6.9"/>
<path class="m" d="M40.0 -11.3L40.0 -3.3"/>
<path class="w" d="M-40.0 -10.6A41.2 15.8 0 0 1 40.0 -10.6L40.0 -8.0A41.2 15.8 0 0 0 -40.0 -8.0Z" />
<path class="w" d="M-35.0 -14.4A36.1 13.4 0 0 1 35.0 -14.4L35.0 -10.6A36.1 15.8 0 0 0 -35.0 -10.6Z" />
</g>
<path class="w" d="M1541 334L1548 312L1563 306L1575 312L1578.4 346L1580 351L1548 364Z" />
<path class="n" d="M1548 318Q1552 306 1566 308L1574 314" />
<ellipse class="w" cx="1555.6" cy="330.0" rx="13.0" ry="18.0" transform="rotate(-8 1555.6 330.0)"/>
<ellipse class="n" cx="1555.6" cy="330.0" rx="11.4" ry="16.4" transform="rotate(-8 1555.6 330.0)"/>
<ellipse class="m" cx="1555.6" cy="330.0" rx="5.0" ry="7.0" transform="rotate(-8 1555.6 330.0)"/>
<path class="m" d="M1571 312L1577 318L1580 340L1584 351" />
<path class="w" d="M1534.3 525.2L1547.4 514.1L1558 512L1560.5 516L1565.5 540L1562 556L1556 569L1585 584L1583 590L1570 591L1563 604L1556 617L1524 617L1524.2 600Z" />
<path class="m" d="M1543.4 523.2L1537.3 576.6" />
<path class="m" d="M1547.4 514.1L1545.4 521L1556.6 514.6" />
<path class="k" d="M1544.4 528.2L1554.5 530.2L1552.4 544.4L1545.4 547.4L1548 560L1550.4 570.6" />
<path class="n" d="M1546.4 527L1556.6 516.6L1558.6 520M1549 531.6L1553.6 532.6L1552.8 538L1548.4 537ZM1546 548.6L1549.4 549L1549 553L1545.8 552.6ZM1544.6 558L1548 558.6L1547.6 562L1544.4 561.6Z" />
<path class="m" d="M1556.6 520Q1566 536 1560 556Q1556 566 1550.4 570.6" />
<path class="k" d="M1540.3 577.6L1583.7 587.7" />
<path class="m" d="M1542.4 572.6L1585 584.4" />
<path class="n" d="M1556 578.4L1574 582.6M1557 580.4L1575 584.6M1563.6 570L1568 571L1567 575L1562.6 574Z" />
<circle class="f" cx="1554.5" cy="574.6" r="4.0"/>
<circle class="g" cx="1554.5" cy="574.6" r="2.0"/>
<circle class="f" cx="1530.3" cy="583.7" r="3.0"/>
<circle class="g" cx="1530.3" cy="583.7" r="1.4"/>
<path class="m" d="M1537.3 576.6L1530 590L1525 600M1540.3 580.7L1570.6 590.8L1564.5 600.8" />
<path class="w" d="M1458 570L1470 573L1456 616L1448 610Z" />
<path class="w" d="M1462 584L1500 580L1506 590L1502 612L1462 612Z" />
<path class="m" d="M1466 590L1498 586L1500 600L1466 606Z" />
<path class="m" d="M1466 606Q1480 590 1498 598" />
<path class="n" d="M1470 610Q1482 598 1496 604" />
<path class="w" d="M1442 617L1442 610L1448 604L1500 604L1504 610L1504 617" />
<path class="m" d="M1462 604L1462 617" />
<path class="m" d="M1465 617A7 7 0 0 1 1479 617" />
<circle class="n" cx="1473.0" cy="612.0" r="2.6"/>
<ellipse class="w" cx="1516.0" cy="606.0" rx="5.5" ry="14.0" transform="rotate(8 1516.0 606.0)"/>
<ellipse class="n" cx="1516.0" cy="606.0" rx="2.2" ry="6.0" transform="rotate(8 1516.0 606.0)"/>
<path class="w" d="M1535.4 617A15 15 0 0 1 1563.6 604.6L1566 617Z" />
<path class="n" d="M1538.4 617A12 12 0 0 1 1561 608" />
<ellipse class="m" cx="1549.4" cy="610.4" rx="4.5" ry="7.0" transform="rotate(-10 1549.4 610.4)"/>
<path class="w" d="M1566 617L1566 606L1572 600L1584 600L1584 617" />
<path class="n" d="M1570 604L1582 600" />
<path class="w" d="M1590 564L1596 612L1608 620L1634 612L1640 600L1636 562Z" />
<path class="n" d="M1592.6 566L1598.4 610.6L1608.6 617.6L1632 610L1637.4 599.6L1634 564" />
<circle class="w" cx="1613.0" cy="595.0" r="17.0"/>
<circle class="m" cx="1613.0" cy="595.0" r="6.6"/>
<path class="m" d="M1596 612Q1594 626 1598 634M1634 612L1638 600L1640 610Q1641 626 1636 634" />
<path class="n" d="M1598.0 634.4L1636.0 634.4"/>
<path class="k" d="M1608 634.6h3M1630 634.6h3" />
<path class="m" d="M1636 566L1644 570L1652 590L1646 598L1640 596" />
<path class="n" d="M1640 574L1648 590" />
<path class="m" d="M1639 617L1639 606L1646 600L1653 596L1665 596" />
<path class="n" d="M1653.0 598.6L1665.0 598.6"/>
<path class="m" d="M1584.4 617.0L1584.4 637.0L1637.0 637.0L1637.0 617.0"/>
<path class="k" d="M1578.0 600.4L1592.0 600.4"/>
</g>
<path class="w" d="M1436.4 617L1894 617L1894 654L1870.6 654L1870.6 674L1436.4 674Z" />
<path class="m" d="M1584.4 617.0L1584.4 637.0L1637.0 637.0L1637.0 617.0"/>
<path class="m" d="M1693.0 617.0L1693.0 637.0L1745.6 637.0L1745.6 617.0"/>
<path class="n" d="M1870.6 674.0L1894.0 674.0"/>
<path class="k" d="M1892.0 654.0L1892.0 674.0"/>
<path class="m" d="M1596 617Q1595 628 1598 634M1640 617Q1640.6 628 1636 634" />
<path class="n" d="M1598.0 634.4L1636.0 634.4"/>
<path class="k" d="M1608 634.6h3M1630 634.6h3" />
<path class="m" d="M1597 617L1608 620L1634 612" />
<g transform="translate(3330 0) scale(-1 1)">
<path class="m" d="M1596 617Q1595 628 1598 634M1640 617Q1640.6 628 1636 634" />
<path class="n" d="M1598.0 634.4L1636.0 634.4"/>
<path class="k" d="M1608 634.6h3M1630 634.6h3" />
<path class="m" d="M1597 617L1608 620L1634 612" />
</g>
<defs><clipPath id="cb1"><path d="M1436.4 617H1446V650H1444.4V674H1436.4Z"/></clipPath><clipPath id="cb2"><path d="M1454.4 617H1476Q1496 640 1482 674H1455V650H1454.4Z"/></clipPath><clipPath id="cb3"><path d="M1868 617H1894V654H1870.6V674H1859Q1846 640 1868 617Z"/></clipPath></defs>
<path class="n" d="M1476 617Q1496 640 1482 674" />
<path class="n" d="M1868 617Q1846 640 1859 674" />
<path class="m" d="M1446.0 617.0L1446.0 650.0L1444.4 650.0L1444.4 674.0"/>
<path class="m" d="M1454.4 617.0L1454.4 650.0L1455.0 650.0L1455.0 674.0"/>
<path class="m" d="M1444.4 650.0L1455.0 650.0"/>
<g clip-path="url(#cb1)">
<path class="h" d="M1323.0 617.0L1380.0 674.0M1334.0 617.0L1391.0 674.0M1345.0 617.0L1402.0 674.0M1356.0 617.0L1413.0 674.0M1367.0 617.0L1424.0 674.0M1378.0 617.0L1435.0 674.0M1389.0 617.0L1446.0 674.0M1400.0 617.0L1457.0 674.0M1411.0 617.0L1468.0 674.0M1422.0 617.0L1479.0 674.0M1433.0 617.0L1490.0 674.0M1444.0 617.0L1501.0 674.0" />
</g>
<g clip-path="url(#cb2)">
<path class="h" d="M1343.0 617.0L1400.0 674.0M1354.0 617.0L1411.0 674.0M1365.0 617.0L1422.0 674.0M1376.0 617.0L1433.0 674.0M1387.0 617.0L1444.0 674.0M1398.0 617.0L1455.0 674.0M1409.0 617.0L1466.0 674.0M1420.0 617.0L1477.0 674.0M1431.0 617.0L1488.0 674.0M1442.0 617.0L1499.0 674.0M1453.0 617.0L1510.0 674.0M1464.0 617.0L1521.0 674.0M1475.0 617.0L1532.0 674.0M1486.0 617.0L1543.0 674.0M1497.0 617.0L1554.0 674.0" />
</g>
<g clip-path="url(#cb3)">
<path class="h" d="M1733.0 617.0L1790.0 674.0M1744.0 617.0L1801.0 674.0M1755.0 617.0L1812.0 674.0M1766.0 617.0L1823.0 674.0M1777.0 617.0L1834.0 674.0M1788.0 617.0L1845.0 674.0M1799.0 617.0L1856.0 674.0M1810.0 617.0L1867.0 674.0M1821.0 617.0L1878.0 674.0M1832.0 617.0L1889.0 674.0M1843.0 617.0L1900.0 674.0M1854.0 617.0L1911.0 674.0M1865.0 617.0L1922.0 674.0M1876.0 617.0L1933.0 674.0M1887.0 617.0L1944.0 674.0M1898.0 617.0L1955.0 674.0" />
</g>
<path class="c" d="M1665.0 125.0L1665.0 714.0"/>
<path class="c2" d="M1449.6 617.0L1449.6 674.0"/>
<path class="c2" d="M1875.4 647.0L1875.4 674.0"/>
<path class="t" d="M1449.6 674.0L1449.6 714.0"/>
<path class="t" d="M1875.4 674.0L1875.4 714.0"/>
<path class="t" d="M1449.6 710.6L1875.4 710.6"/>
<path class="ah" d="M1449.6 710.6L1458.6 709.3L1458.6 711.9Z"/>
<path class="ah" d="M1665.0 710.6L1656.0 711.9L1656.0 709.3Z"/>
<path class="ah" d="M1665.0 710.6L1674.0 709.3L1674.0 711.9Z"/>
<path class="ah" d="M1875.4 710.6L1866.4 711.9L1866.4 709.3Z"/>
<text x="1527.6" y="707.0">64</text>
<text x="1549.6" y="707.0" style="font-size:10.5px">±0,05</text>
<text x="1773.5" y="707.0" text-anchor="middle">62,5</text>
<path class="t" d="M1405.0 650.4L1436.0 650.4"/>
<path class="t" d="M1405.0 674.0L1436.0 674.0"/>
<path class="t" d="M1408.6 642.0L1408.6 711.0"/>
<path class="ah" d="M1408.6 650.4L1407.3 641.4L1409.9 641.4Z"/>
<path class="ah" d="M1408.6 674.0L1409.9 683.0L1407.3 683.0Z"/>
<text x="1404.6" y="700.0" text-anchor="middle" transform="rotate(-90 1404.6 700.0)">7</text>
<path class="t" d="M1894.0 654.0L1923.0 654.0"/>
<path class="t" d="M1894.0 674.0L1923.0 674.0"/>
<path class="t" d="M1919.6 645.0L1919.6 682.0"/>
<path class="ah" d="M1919.6 654.0L1918.3 647.0L1920.9 647.0Z"/>
<path class="ah" d="M1919.6 674.0L1920.9 681.0L1918.3 681.0Z"/>
<text x="1916.6" y="663.8" text-anchor="middle" transform="rotate(-90 1916.6 663.8)">6</text>
<path class="t" d="M1444.4 674.0L1444.4 749.0"/>
<path class="t" d="M1455.0 674.0L1455.0 749.0"/>
<path class="t" d="M1436.0 745.6L1524.0 745.6"/>
<path class="ah" d="M1444.4 745.6L1436.4 746.9L1436.4 744.3Z"/>
<path class="ah" d="M1455.0 745.6L1463.0 744.3L1463.0 746.9Z"/>
<text x="1479.0" y="741.0"><tspan class="di">⌀</tspan><tspan dx="1.5">3</tspan></text>
<text x="1507.0" y="731.0" style="font-size:9.5px">F7</text>
<path class="t" d="M1531.0 221.0L1664.0 318.8"/>
<path class="ah" d="M1664.0 318.8L1656.8 315.0L1658.3 313.1Z"/>
<text x="1403.0" y="227.0">Pivotpunkt (0;0;0)</text>
<path class="w" d="M674 987.4A228.8 228.8 0 1 0 674 1089.8Z" />
<path class="m" d="M225.8 1012.8L275.0 1031.8"/>
<path class="m" d="M225.8 1012.8L230.1 1020L275 1036.4" />
<path class="k" d="M252.5 959.5Q228.6 990 262 1024.6" />
<path class="m" d="M251 964Q231.6 990 262 1021.4" />
<path class="n" d="M254 966Q237.6 988 262 1015.6" />
<path class="n" d="M255.6 968Q240.6 988 262 1013" />
<path class="m" d="M240.2 970Q227 986 229.4 998Q230 1004 233 1006Q238 1002 236 994Q234 984 240.2 970Z" />
<path class="n" d="M237.4 980Q232.6 990 233.6 996Q236 992 237.4 980Z" />
<path class="m" d="M231.6 1004.8L238.8 1002L240.2 1009L233 1011.4Z" />
<path class="n" d="M236 1000L241.6 998M242.4 993L246 992.6M243.8 996L249.6 1007.6M240 1000L246 1011" />
<path class="m" d="M238.0 957.0L249.6 960.9"/>
<path class="m" d="M237.4 959.0L249.0 962.9"/>
<path class="m" d="M262 939.6L258.2 941.4L246.7 948Q246 949.4 246.7 950.6L251 960.9L262 951.5" />
<circle class="n" cx="258.2" cy="950.8" r="1.6"/>
<g transform="translate(0 2077.2) scale(1 -1)">
<path class="m" d="M225.8 1012.8L275.0 1031.8"/>
<path class="m" d="M225.8 1012.8L230.1 1020L275 1036.4" />
<path class="k" d="M252.5 959.5Q228.6 990 262 1024.6" />
<path class="m" d="M251 964Q231.6 990 262 1021.4" />
<path class="n" d="M254 966Q237.6 988 262 1015.6" />
<path class="n" d="M255.6 968Q240.6 988 262 1013" />
<path class="m" d="M240.2 970Q227 986 229.4 998Q230 1004 233 1006Q238 1002 236 994Q234 984 240.2 970Z" />
<path class="n" d="M237.4 980Q232.6 990 233.6 996Q236 992 237.4 980Z" />
<path class="m" d="M231.6 1004.8L238.8 1002L240.2 1009L233 1011.4Z" />
<path class="n" d="M236 1000L241.6 998M242.4 993L246 992.6M243.8 996L249.6 1007.6M240 1000L246 1011" />
<path class="m" d="M238.0 957.0L249.6 960.9"/>
<path class="m" d="M237.4 959.0L249.0 962.9"/>
<path class="m" d="M262 939.6L258.2 941.4L246.7 948Q246 949.4 246.7 950.6L251 960.9L262 951.5" />
<circle class="n" cx="258.2" cy="950.8" r="1.6"/>
</g>
<path class="m" d="M240.2 1121.2A226.4 226.4 0 0 1 240.2 956.0" />
<path class="m" d="M229.4 1020.0L229.4 1057.2"/>
<circle class="m" cx="232.7" cy="1038.6" r="3.2"/>
<g transform="rotate(120 451.0 1038.6)">
<path class="m" d="M225.8 1012.8L275.0 1031.8"/>
<path class="m" d="M225.8 1012.8L230.1 1020L275 1036.4" />
<path class="k" d="M252.5 959.5Q228.6 990 262 1024.6" />
<path class="m" d="M251 964Q231.6 990 262 1021.4" />
<path class="n" d="M254 966Q237.6 988 262 1015.6" />
<path class="n" d="M255.6 968Q240.6 988 262 1013" />
<path class="m" d="M240.2 970Q227 986 229.4 998Q230 1004 233 1006Q238 1002 236 994Q234 984 240.2 970Z" />
<path class="n" d="M237.4 980Q232.6 990 233.6 996Q236 992 237.4 980Z" />
<path class="m" d="M231.6 1004.8L238.8 1002L240.2 1009L233 1011.4Z" />
<path class="n" d="M236 1000L241.6 998M242.4 993L246 992.6M243.8 996L249.6 1007.6M240 1000L246 1011" />
<path class="m" d="M238.0 957.0L249.6 960.9"/>
<path class="m" d="M237.4 959.0L249.0 962.9"/>
<path class="m" d="M262 939.6L258.2 941.4L246.7 948Q246 949.4 246.7 950.6L251 960.9L262 951.5" />
<circle class="n" cx="258.2" cy="950.8" r="1.6"/>
<g transform="translate(0 2077.2) scale(1 -1)">
<path class="m" d="M225.8 1012.8L275.0 1031.8"/>
<path class="m" d="M225.8 1012.8L230.1 1020L275 1036.4" />
<path class="k" d="M252.5 959.5Q228.6 990 262 1024.6" />
<path class="m" d="M251 964Q231.6 990 262 1021.4" />
<path class="n" d="M254 966Q237.6 988 262 1015.6" />
<path class="n" d="M255.6 968Q240.6 988 262 1013" />
<path class="m" d="M240.2 970Q227 986 229.4 998Q230 1004 233 1006Q238 1002 236 994Q234 984 240.2 970Z" />
<path class="n" d="M237.4 980Q232.6 990 233.6 996Q236 992 237.4 980Z" />
<path class="m" d="M231.6 1004.8L238.8 1002L240.2 1009L233 1011.4Z" />
<path class="n" d="M236 1000L241.6 998M242.4 993L246 992.6M243.8 996L249.6 1007.6M240 1000L246 1011" />
<path class="m" d="M238.0 957.0L249.6 960.9"/>
<path class="m" d="M237.4 959.0L249.0 962.9"/>
<path class="m" d="M262 939.6L258.2 941.4L246.7 948Q246 949.4 246.7 950.6L251 960.9L262 951.5" />
<circle class="n" cx="258.2" cy="950.8" r="1.6"/>
</g>
<path class="m" d="M240.2 1121.2A226.4 226.4 0 0 1 240.2 956.0" />
<path class="m" d="M229.4 1020.0L229.4 1057.2"/>
<circle class="m" cx="232.7" cy="1038.6" r="3.2"/>
</g>
<g transform="rotate(-120 451.0 1038.6)">
<path class="m" d="M225.8 1012.8L275.0 1031.8"/>
<path class="m" d="M225.8 1012.8L230.1 1020L275 1036.4" />
<path class="k" d="M252.5 959.5Q228.6 990 262 1024.6" />
<path class="m" d="M251 964Q231.6 990 262 1021.4" />
<path class="n" d="M254 966Q237.6 988 262 1015.6" />
<path class="n" d="M255.6 968Q240.6 988 262 1013" />
<path class="m" d="M240.2 970Q227 986 229.4 998Q230 1004 233 1006Q238 1002 236 994Q234 984 240.2 970Z" />
<path class="n" d="M237.4 980Q232.6 990 233.6 996Q236 992 237.4 980Z" />
<path class="m" d="M231.6 1004.8L238.8 1002L240.2 1009L233 1011.4Z" />
<path class="n" d="M236 1000L241.6 998M242.4 993L246 992.6M243.8 996L249.6 1007.6M240 1000L246 1011" />
<path class="m" d="M238.0 957.0L249.6 960.9"/>
<path class="m" d="M237.4 959.0L249.0 962.9"/>
<path class="m" d="M262 939.6L258.2 941.4L246.7 948Q246 949.4 246.7 950.6L251 960.9L262 951.5" />
<circle class="n" cx="258.2" cy="950.8" r="1.6"/>
<g transform="translate(0 2077.2) scale(1 -1)">
<path class="m" d="M225.8 1012.8L275.0 1031.8"/>
<path class="m" d="M225.8 1012.8L230.1 1020L275 1036.4" />
<path class="k" d="M252.5 959.5Q228.6 990 262 1024.6" />
<path class="m" d="M251 964Q231.6 990 262 1021.4" />
<path class="n" d="M254 966Q237.6 988 262 1015.6" />
<path class="n" d="M255.6 968Q240.6 988 262 1013" />
<path class="m" d="M240.2 970Q227 986 229.4 998Q230 1004 233 1006Q238 1002 236 994Q234 984 240.2 970Z" />
<path class="n" d="M237.4 980Q232.6 990 233.6 996Q236 992 237.4 980Z" />
<path class="m" d="M231.6 1004.8L238.8 1002L240.2 1009L233 1011.4Z" />
<path class="n" d="M236 1000L241.6 998M242.4 993L246 992.6M243.8 996L249.6 1007.6M240 1000L246 1011" />
<path class="m" d="M238.0 957.0L249.6 960.9"/>
<path class="m" d="M237.4 959.0L249.0 962.9"/>
<path class="m" d="M262 939.6L258.2 941.4L246.7 948Q246 949.4 246.7 950.6L251 960.9L262 951.5" />
<circle class="n" cx="258.2" cy="950.8" r="1.6"/>
</g>
<path class="m" d="M240.2 1121.2A226.4 226.4 0 0 1 240.2 956.0" />
<path class="m" d="M229.4 1020.0L229.4 1057.2"/>
<circle class="m" cx="232.7" cy="1038.6" r="3.2"/>
</g>
<circle class="c" cx="451.0" cy="1038.6" r="201.2"/>
<path class="m" d="M438 848.6L470 829Q476 826 484 827" />
<path class="t" d="M470 829Q490 826 519 848.6" />
<path class="m" d="M438 1228.6L470 1248Q476 1251 484 1250" />
<path class="t" d="M470 1248Q490 1251 519 1228.6" />
<path class="w" d="M356.6 848.6L546.4 848.6L546.4 911.7A43 32 0 0 0 589.6 943.7L641.6 943.7L641.6 1133.5L580 1133.5A34 38 0 0 0 546.4 1171.5L546.4 1228.6L356.6 1228.6L356.6 1170A28 36 0 0 0 328 1133.5L262 1133.5L262 943.7L330 943.7A26 44 0 0 0 356.6 900Z" />
<path class="m" d="M356.0 853.0L547.0 853.0"/>
<path class="k" d="M356.0 850.0L547.0 850.0"/>
<path class="m" d="M356.0 1224.0L547.0 1224.0"/>
<path class="k" d="M356.0 1227.0L547.0 1227.0"/>
<path class="m" d="M637.0 943.7L637.0 1133.5"/>
<path class="k" d="M640.0 943.7L640.0 1133.5"/>
<path class="m" d="M266.0 1078.6L266.0 1133.5"/>
<path class="k" d="M263.4 1078.6L263.4 1133.5"/>
<path class="m" d="M546.5 894Q575 872 606 886Q622 898 623.2 917L623.2 943.4" />
<path class="n" d="M548 890Q576 868 608 882Q624 894 626 912" />
<path class="m" d="M547.8 899L589.6 943.4" />
<path class="n" d="M561 882L563 886M590 878L590 882M612 890L609 893" />
<g transform="translate(0 2077.2) scale(1 -1)">
<path class="m" d="M546.5 894Q575 872 606 886Q622 898 623.2 917L623.2 943.4" />
<path class="n" d="M548 890Q576 868 608 882Q624 894 626 912" />
<path class="m" d="M547.8 899L589.6 943.4" />
<path class="n" d="M561 882L563 886M590 878L590 882M612 890L609 893" />
</g>
<path class="m" d="M356.6 900Q340 912 336 915Q324 916 312 922L275 941.4" />
<path class="m" d="M298 943.7Q302 926 324 918" />
<path class="n" d="M303 943.7Q307 927 328 919" />
<path class="m" d="M309 943.7Q313 926 332 918" />
<path class="n" d="M314 943.7Q318 924 336 916" />
<g transform="translate(0 2077.2) scale(1 -1)">
<path class="m" d="M356.6 900Q340 912 336 915Q324 916 312 922L275 941.4" />
<path class="m" d="M298 943.7Q302 926 324 918" />
<path class="n" d="M303 943.7Q307 927 328 919" />
<path class="m" d="M309 943.7Q313 926 332 918" />
<path class="n" d="M314 943.7Q318 924 336 916" />
</g>
<circle class="m" cx="387.0" cy="863.2" r="4.4"/>
<circle class="m" cx="514.5" cy="863.2" r="4.4"/>
<circle class="m" cx="533.0" cy="938.0" r="4.4"/>
<circle class="m" cx="498.8" cy="957.4" r="4.4"/>
<circle class="m" cx="498.8" cy="974.6" r="4.4"/>
<circle class="m" cx="515.0" cy="975.0" r="4.4"/>
<circle class="m" cx="626.5" cy="975.0" r="4.4"/>
<circle class="m" cx="276.0" cy="1102.4" r="4.4"/>
<circle class="m" cx="369.2" cy="1102.4" r="4.4"/>
<circle class="m" cx="386.6" cy="1102.4" r="4.4"/>
<circle class="m" cx="498.4" cy="1102.4" r="4.4"/>
<circle class="m" cx="515.0" cy="1102.4" r="4.4"/>
<circle class="m" cx="626.5" cy="1102.4" r="4.4"/>
<circle class="m" cx="369.2" cy="1139.8" r="4.4"/>
<circle class="m" cx="387.0" cy="1213.6" r="4.4"/>
<circle class="m" cx="514.5" cy="1213.6" r="4.4"/>
<circle class="m" cx="552.5" cy="1120.4" r="4.4"/>
<circle class="m" cx="560.5" cy="849.4" r="3.6"/>
<circle class="m" cx="560.5" cy="1227.6" r="3.6"/>
<circle class="m" cx="660.2" cy="983.0" r="3.6"/>
<circle class="m" cx="660.2" cy="1094.6" r="3.6"/>
<circle class="m" cx="451.4" cy="822.4" r="3.6"/>
<path class="m" d="M641.6 958A5.8 5.8 0 0 1 641.6 969.6" />
<circle class="nw" cx="349.6" cy="864.0" r="6.8"/>
<path class="t" d="M346.6 861.0L352.6 867.0"/>
<path class="t" d="M346.6 867.0L352.6 861.0"/>
<circle class="nw" cx="349.6" cy="1213.4" r="6.8"/>
<path class="t" d="M346.6 1210.4L352.6 1216.4"/>
<path class="t" d="M346.6 1216.4L352.6 1210.4"/>
<circle class="nw" cx="653.5" cy="1038.8" r="7.0"/>
<path class="t" d="M650.5 1035.8L656.5 1041.8"/>
<path class="t" d="M650.5 1041.8L656.5 1035.8"/>
<circle class="w" cx="515.0" cy="992.0" r="4.2"/>
<path class="k" d="M512.9 995.6L517.1 988.4"/>
<circle class="w" cx="515.0" cy="1085.8" r="4.2"/>
<path class="k" d="M512.9 1089.4L517.1 1082.2"/>
<circle class="w" cx="386.6" cy="1085.6" r="4.2"/>
<path class="k" d="M383.2 1083.2L390.0 1088.0"/>
<circle class="w" cx="404.2" cy="1102.0" r="4.2"/>
<path class="k" d="M400.8 1099.6L407.6 1104.4"/>
<circle class="w" cx="534.6" cy="1036.4" r="4.0"/>
<path class="k" d="M534.6 1032.4L534.6 1040.4"/>
<circle class="n" cx="534.6" cy="1036.4" r="2.6"/>
<circle class="m" cx="516.4" cy="1040.6" r="4.4"/>
<path class="m" d="M518 1036.6A4.4 4.4 0 0 1 518 1044.6" />
<circle class="m" cx="448.4" cy="1104.4" r="4.4"/>
<path class="m" d="M444.0 1104.4L452.8 1104.4"/>
<circle class="w" cx="525.2" cy="910.2" r="13.4"/>
<circle class="m" cx="525.2" cy="910.2" r="11.6"/>
<circle class="m" cx="525.2" cy="910.2" r="6.6"/>
<circle class="m" cx="525.2" cy="910.2" r="4.6"/>
<circle class="w" cx="525.2" cy="1166.6" r="13.4"/>
<circle class="m" cx="525.2" cy="1166.6" r="11.6"/>
<circle class="m" cx="525.2" cy="1166.6" r="6.6"/>
<circle class="m" cx="525.2" cy="1166.6" r="4.6"/>
<circle class="k" cx="451.6" cy="1038.8" r="34.4"/>
<circle class="m" cx="454.0" cy="972.0" r="3.6"/>
<rect class="w" x="419.0" y="976.0" width="81.0" height="13.0" rx="1.5"/>
<path class="n" d="M419.0 979.4L500.0 979.4"/>
<path class="n" d="M419.0 985.6L498.0 985.6"/>
<rect class="w" x="400.0" y="970.4" width="19.0" height="22.6" rx="2"/>
<path class="m" d="M405.0 970.4L405.0 993.0"/>
<path class="n" d="M409.0 970.4L409.0 993.0"/>
<rect class="w" x="262.0" y="943.7" width="137.6" height="133.3"/>
<path class="k" d="M261.0 944.4L400.6 944.4"/>
<path class="k" d="M261.0 1077.0L400.6 1077.0"/>
<path class="k" d="M399.6 943.7L399.6 1077.0"/>
<path class="k" d="M263.0 943.7L263.0 997.0"/>
<path class="m" d="M267.6 945.0L267.6 997.0"/>
<circle class="w" cx="351.0" cy="957.4" r="11.6"/>
<circle class="m" cx="351.0" cy="957.4" r="9.4"/>
<path class="n" d="M356.0 958.7L353.3 959.7L352.3 962.4L350.2 960.5L347.3 961.1L347.9 958.2L346.0 956.1L348.7 955.1L349.7 952.4L351.8 954.3L354.7 953.7L354.1 956.6Z"/>
<circle class="w" cx="386.0" cy="1036.4" r="11.6"/>
<circle class="m" cx="386.0" cy="1036.4" r="9.4"/>
<path class="n" d="M391.0 1037.7L388.3 1038.7L387.3 1041.4L385.2 1039.5L382.3 1040.1L382.9 1037.2L381.0 1035.1L383.7 1034.1L384.7 1031.4L386.8 1033.3L389.7 1032.7L389.1 1035.6Z"/>
<circle class="m" cx="273.2" cy="950.4" r="4.4"/>
<circle class="n" cx="273.2" cy="950.4" r="2.8"/>
<path class="n" d="M271.2 948.4L275.2 952.4"/>
<path class="n" d="M271.2 952.4L275.2 948.4"/>
<circle class="m" cx="392.6" cy="950.4" r="4.4"/>
<circle class="n" cx="392.6" cy="950.4" r="2.8"/>
<path class="n" d="M390.6 948.4L394.6 952.4"/>
<path class="n" d="M390.6 952.4L394.6 948.4"/>
<circle class="m" cx="392.6" cy="1070.4" r="4.4"/>
<circle class="n" cx="392.6" cy="1070.4" r="2.8"/>
<path class="n" d="M390.6 1068.4L394.6 1072.4"/>
<path class="n" d="M390.6 1072.4L394.6 1068.4"/>
<rect class="w" x="264.4" y="997.6" width="76.0" height="81.0"/>
<path class="k" d="M263.4 997.6L343.0 997.6"/>
<path class="m" d="M342.4 997.6L342.4 1078.6"/>
<circle class="w" cx="323.6" cy="1019.4" r="6.0"/>
<circle class="n" cx="323.6" cy="1019.4" r="4.4"/>
<path class="n" d="M321.0 1016.8L326.2 1022.0"/>
<path class="n" d="M321.0 1022.0L326.2 1016.8"/>
<circle class="w" cx="286.6" cy="1057.0" r="6.0"/>
<circle class="n" cx="286.6" cy="1057.0" r="4.4"/>
<path class="n" d="M284.0 1054.4L289.2 1059.6"/>
<path class="n" d="M284.0 1059.6L289.2 1054.4"/>
<circle class="m" cx="286.0" cy="1019.4" r="3.0"/>
<path class="t" d="M280.0 1019.4L292.0 1019.4"/>
<path class="t" d="M286.0 1013.4L286.0 1025.4"/>
<circle class="m" cx="323.6" cy="1057.0" r="3.0"/>
<path class="t" d="M317.6 1057.0L329.6 1057.0"/>
<path class="t" d="M323.6 1051.0L323.6 1063.0"/>
<path class="w" d="M673.6 985.2L683.2 985.2L683.2 978.2L710.4 978.2L710.4 1039.2L683.2 1039.2L683.2 1032.6L673.6 1032.6" />
<path class="m" d="M678.7 985.2L678.7 1032.6"/>
<path class="m" d="M673.6 1039.2L683.2 1039.2"/>
<rect class="m" x="710.4" y="986.0" width="6.0" height="44.0"/>
<path class="w" d="M716.4 981L733.6 981L750 986L750 1030L733.6 1035L716.4 1035Z" />
<path class="m" d="M733.6 981.0L733.6 1035.0"/>
<path class="m" d="M716.4 1020L736 1020Q744 1024 746 1031L736 1035" />
<rect class="w" x="750.0" y="992.6" width="45.0" height="31.4"/>
<path class="w" d="M676 1052Q676 1047.6 681 1047.6L710.4 1047.6L710.4 1091L681 1091Q676 1091 674 1084L674 1056Z" />
<path class="n" d="M680 1047.6L680 1050L684 1050L684 1047.6" />
<path class="m" d="M713.0 1049.0L713.0 1090.0"/>
<path class="m" d="M716.0 1049.0L716.0 1090.0"/>
<path class="n" d="M710.4 1049.0L719.0 1049.0"/>
<path class="n" d="M710.4 1090.0L719.0 1090.0"/>
<path class="w" d="M719 1048L733 1048L746 1052L746 1087L733 1091L719 1091Z" />
<path class="m" d="M733.0 1069.0L733.0 1091.0"/>
<path class="m" d="M719.0 1069.0L746.0 1069.0"/>
<path class="m" d="M719 1052L734 1052Q742 1056 743 1063Q740 1068 734 1069" />
<rect class="w" x="749.0" y="1055.0" width="46.4" height="33.0"/>
<path class="n" d="M746.0 1060.0L749.0 1060.0"/>
<path class="n" d="M746.0 1080.0L749.0 1080.0"/>
<path class="m" d="M749.0 1068.0L795.4 1068.0"/>
<path class="m" d="M749.0 1071.0L795.4 1071.0"/>
<path class="n" d="M749.0 1084.0L795.4 1084.0"/>
<path class="n" d="M749.0 1058.0L795.4 1058.0"/>
<path class="c2" d="M625.0 1008.4L802.0 1008.4"/>
<path class="c2" d="M643.0 1069.0L802.0 1069.0"/>
<path class="t" d="M189.0 1038.6L668.0 1038.6"/>
<path class="t" d="M451.0 806.0L451.0 1296.0"/>
<path class="t" d="M261.7 779.0L261.7 943.0"/>
<path class="t" d="M641.6 779.0L641.6 943.0"/>
<path class="t" d="M261.7 782.6L641.6 782.6"/>
<path class="ah" d="M261.7 782.6L270.7 781.3L270.7 783.9Z"/>
<path class="ah" d="M641.6 782.6L632.6 783.9L632.6 781.3Z"/>
<text x="452.5" y="779.0" text-anchor="middle">113</text>
<path class="t" d="M264.4 1134.0L264.4 1296.0"/>
<path class="t" d="M264.4 1292.0L451.0 1292.0"/>
<path class="ah" d="M264.4 1292.0L273.4 1290.7L273.4 1293.3Z"/>
<path class="ah" d="M451.0 1292.0L442.0 1293.3L442.0 1290.7Z"/>
<text x="357.5" y="1288.0" text-anchor="middle">55,5</text>
<path class="t" d="M158.0 809.8L452.0 809.8"/>
<path class="t" d="M158.0 1267.4L452.0 1267.4"/>
<path class="t" d="M162.0 809.8L162.0 1267.4"/>
<path class="ah" d="M162.0 809.8L163.3 818.8L160.7 818.8Z"/>
<path class="ah" d="M162.0 1267.4L160.7 1258.4L163.3 1258.4Z"/>
<text x="158.6" y="1058.0" transform="rotate(-90 158.6 1058.0)"><tspan class="di">⌀</tspan><tspan dx="1.5">136</tspan></text>
<path class="t" d="M189.0 1078.6L264.0 1078.6"/>
<path class="t" d="M192.6 985.0L192.6 1078.6"/>
<path class="ah" d="M192.6 1038.6L191.3 1029.6L193.9 1029.6Z"/>
<path class="ah" d="M192.6 1078.6L191.3 1069.6L193.9 1069.6Z"/>
<text x="188.6" y="1008.6" text-anchor="middle" transform="rotate(-90 188.6 1008.6)">11,75</text>
<path class="t" d="M546.0 848.6L833.0 848.6"/>
<path class="t" d="M546.0 1228.8L833.0 1228.8"/>
<path class="t" d="M829.0 848.6L829.0 1228.8"/>
<path class="ah" d="M829.0 848.6L830.3 857.6L827.7 857.6Z"/>
<path class="ah" d="M829.0 1228.8L827.7 1219.8L830.3 1219.8Z"/>
<text x="826.6" y="1038.6" text-anchor="middle" transform="rotate(-90 826.6 1038.6)">113</text>
<path class="t" d="M546.0 837.2L863.0 837.2"/>
<path class="t" d="M546.0 1240.4L863.0 1240.4"/>
<path class="t" d="M859.6 837.2L859.6 1240.4"/>
<path class="ah" d="M859.6 837.2L860.9 846.2L858.3 846.2Z"/>
<path class="ah" d="M859.6 1240.4L858.3 1231.4L860.9 1231.4Z"/>
<text x="856.6" y="1057.0" transform="rotate(-90 856.6 1057.0)"><tspan class="di">⌀</tspan><tspan dx="1.5">120</tspan></text>
<path class="t" d="M704.0 800.0L452.6 1037.0"/>
<path class="ah" d="M452.6 1037.0L457.6 1030.6L459.2 1032.4Z"/>
<text x="705.6" y="805.6">Pivotpunkt (0;0;0)</text>
<rect class="lb" x="232.0" y="37.6" width="19.6" height="15.2"/>
<text x="241.8" y="50.4" text-anchor="middle">Z+</text>
<rect class="lb" x="178.4" y="74.4" width="52.8" height="15.2"/>
<text x="204.8" y="87.2" text-anchor="middle">Sender</text>
<rect class="lb" x="174.0" y="100.6" width="21.0" height="15.6"/>
<text x="184.5" y="113.8" text-anchor="middle">X+</text>
<path class="axh" d="M241.2 101.0L241.2 73.0L239.6 73.0L242.4 57.0L245.2 73.0L243.6 73.0L243.6 101.0"/>
<path class="axh" d="M243.6 98.6L216.0 98.6L216.0 97.0L199.6 99.8L216.0 102.6L216.0 101.0L243.6 101.0"/>
<rect class="lb" x="1712.6" y="52.6" width="19.4" height="15.0"/>
<text x="1722.3" y="65.2" text-anchor="middle">Z+</text>
<rect class="lb" x="1738.0" y="78.6" width="52.0" height="15.4"/>
<text x="1764.0" y="91.6" text-anchor="middle">Sender</text>
<rect class="lb" x="1770.6" y="108.4" width="21.0" height="14.8"/>
<text x="1781.1" y="120.8" text-anchor="middle">Y+</text>
<path class="axh" d="M1720.4 116.4L1720.4 89.0L1718.8 89.0L1721.6 72.4L1724.4 89.0L1722.8 89.0L1722.8 116.4"/>
<path class="axh" d="M1720.4 114.0L1748.0 114.0L1748.0 112.4L1764.0 115.2L1748.0 118.0L1748.0 116.4L1720.4 116.4"/>
<rect class="lb" x="56.2" y="1079.4" width="20.4" height="15.2"/>
<text x="66.4" y="1092.2" text-anchor="middle">X+</text>
<rect class="lb" x="55.4" y="1109.6" width="52.4" height="15.8"/>
<text x="81.6" y="1123.0" text-anchor="middle">Sender</text>
<rect class="lb" x="117.2" y="1137.0" width="20.6" height="15.6"/>
<text x="127.5" y="1150.2" text-anchor="middle">Y+</text>
<path class="axh" d="M126.8 1086.0L100.0 1086.0L100.0 1084.4L82.4 1087.2L100.0 1090.0L100.0 1088.4L126.8 1088.4"/>
<path class="axh" d="M124.4 1086.0L124.4 1113.6L122.8 1113.6L125.6 1130.8L128.4 1113.6L126.8 1113.6L126.8 1086.0"/>
</svg>
</body></html>
